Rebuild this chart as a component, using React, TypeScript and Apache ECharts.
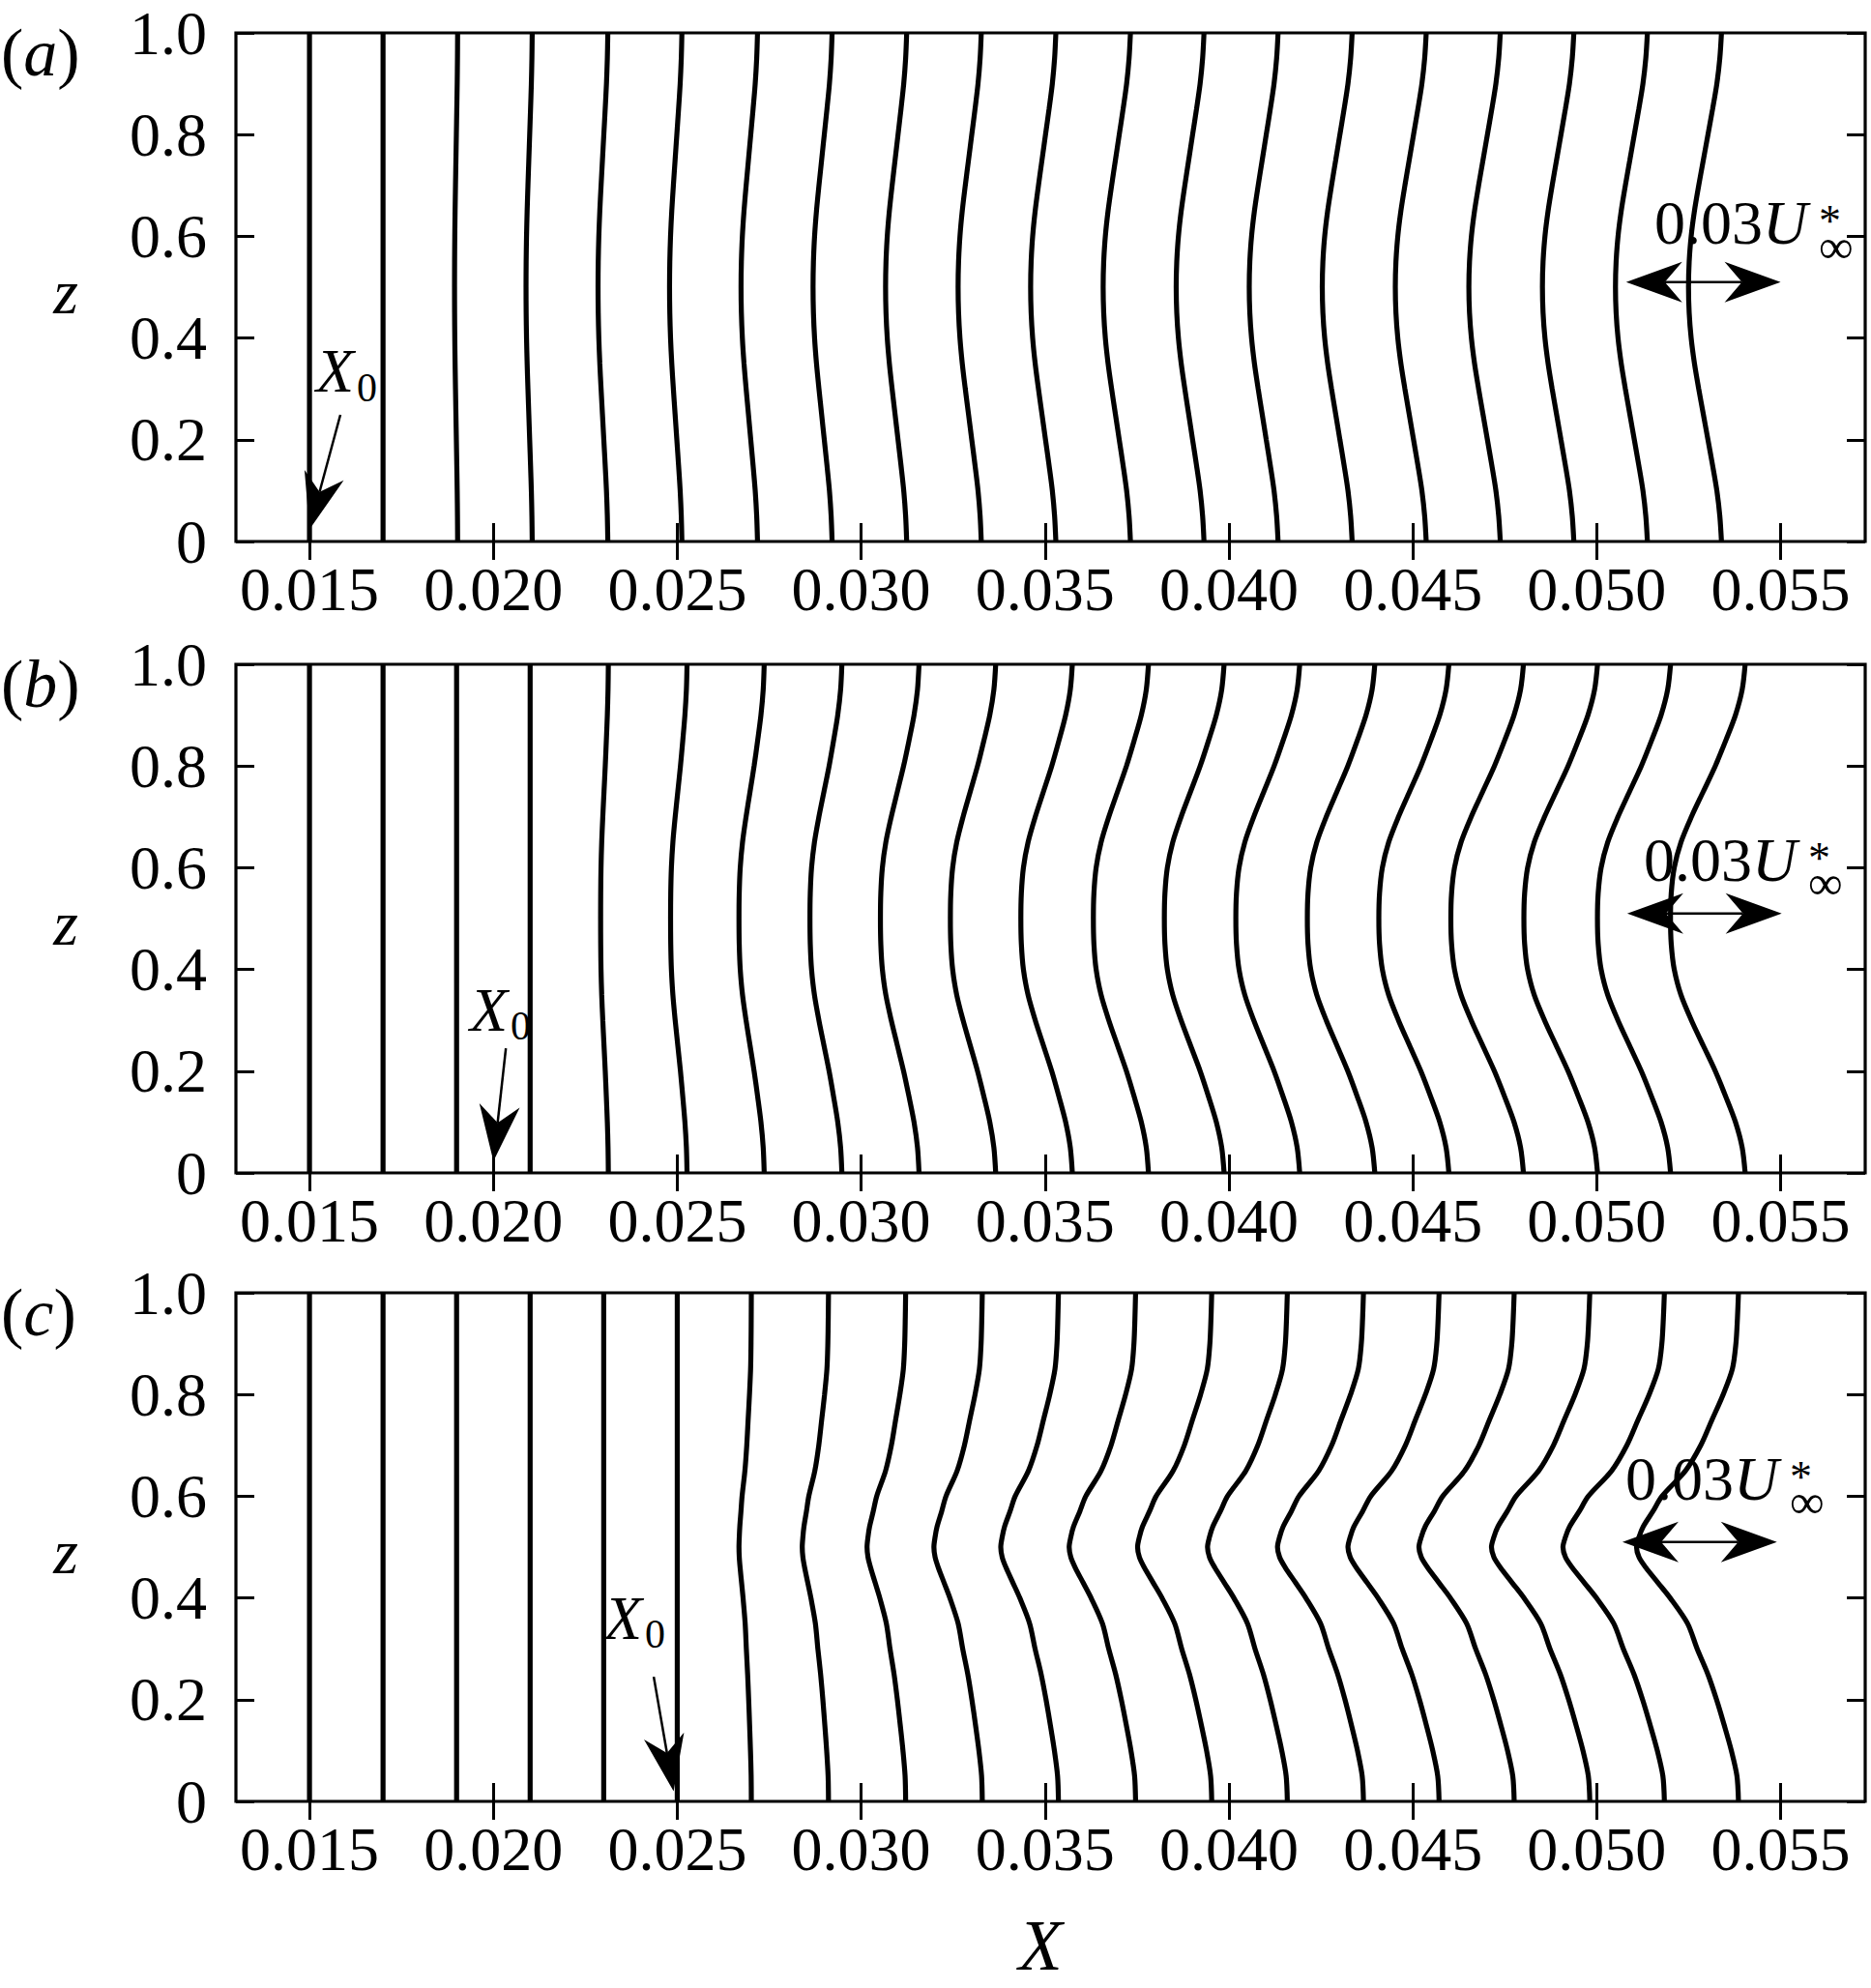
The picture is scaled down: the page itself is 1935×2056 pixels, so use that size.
import React, { useEffect, useRef } from 'react';
import * as echarts from 'echarts';

const FONT = '"Liberation Serif", "Times New Roman", serif';

// ---- axes ----
const X_MIN = 0.013;
const X_MAX = 0.0573;
const X_TICKS = [0.015, 0.02, 0.025, 0.03, 0.035, 0.04, 0.045, 0.05, 0.055];
const Z_MIN = 0;
const Z_MAX = 1;
const Z_INTERVAL = 0.2;

const PANEL_LETTERS = ['a', 'b', 'c'];

// ---- streamwise stations of the profiles ----
const PROFILE_X = [
  0.015, 0.017, 0.019, 0.021, 0.023, 0.025, 0.027, 0.029, 0.031, 0.033,
  0.035, 0.037, 0.039, 0.041, 0.043, 0.045, 0.047, 0.049, 0.051, 0.053,
];

// velocity perturbation u'/U* at the walls (z=0,1) and at the centre, per station
const WALL_A = [0, 0, 0.0002, 0.0004, 0.0008, 0.0009, 0.0013, 0.0015, 0.0017, 0.0019, 0.0021, 0.0023, 0.0023, 0.0024, 0.0025, 0.0026, 0.0027, 0.0027, 0.0027, 0.0028];
const CENTER_A = [0, 0, -0.0004, -0.0008, -0.0011, -0.0015, -0.0019, -0.0022, -0.0024, -0.0026, -0.0028, -0.003, -0.0031, -0.0032, -0.0033, -0.0034, -0.0034, -0.0034, -0.0035, -0.0036];

const WALL_B = [0, 0, 0, 0, 0.0009, 0.0019, 0.0026, 0.0034, 0.0041, 0.0047, 0.0053, 0.0058, 0.0062, 0.0066, 0.0069, 0.007, 0.0072, 0.0073, 0.0072, 0.0074];
const CENTER_B = [0, 0, 0, 0, -0.0006, -0.0013, -0.0023, -0.0028, -0.0034, -0.0041, -0.0047, -0.0049, -0.0054, -0.0058, -0.0062, -0.0066, -0.0069, -0.007, -0.007, -0.0071];

const WALL_C = [0, 0, 0, 0, 0, 0, 0.0001, 0.0008, 0.0015, 0.0021, 0.0026, 0.0033, 0.0038, 0.0042, 0.0047, 0.0051, 0.0054, 0.0058, 0.006, 0.0061];
const CENTER_C = [0, 0, 0, 0, 0, 0, -0.0023, -0.0043, -0.006, -0.0073, -0.0086, -0.0096, -0.0106, -0.0113, -0.012, -0.0126, -0.0131, -0.0133, -0.0137, -0.0137];

// profile shape across z (0 at the walls, 1 at the centre), read from the last profile
const Z_AB = [0, 0.05, 0.1, 0.15, 0.2, 0.25, 0.3, 0.35, 0.4, 0.45, 0.5, 0.55, 0.6, 0.65, 0.7, 0.75, 0.8, 0.85, 0.9, 0.95, 1];
const SHAPE_A = [0, 0.05, 0.14, 0.27, 0.41, 0.55, 0.69, 0.82, 0.92, 0.98, 1, 0.98, 0.92, 0.82, 0.69, 0.55, 0.41, 0.27, 0.14, 0.05, 0];
const SHAPE_B = [0, 0.04, 0.13, 0.26, 0.4, 0.56, 0.72, 0.86, 0.95, 0.99, 1, 0.99, 0.95, 0.86, 0.72, 0.56, 0.4, 0.26, 0.13, 0.04, 0];
const Z_C = [0, 0.05, 0.1, 0.15, 0.2, 0.25, 0.3, 0.35, 0.4, 0.43, 0.46, 0.48, 0.5, 0.52, 0.54, 0.57, 0.6, 0.65, 0.7, 0.75, 0.8, 0.85, 0.9, 0.95, 1];
const SHAPE_C = [0, 0.015, 0.07, 0.14, 0.215, 0.3, 0.405, 0.5, 0.67, 0.79, 0.91, 0.975, 1, 0.975, 0.935, 0.84, 0.75, 0.52, 0.37, 0.26, 0.15, 0.06, 0.025, 0.01, 0];

// X displacement per unit of u'/U*  (scale bar: 0.03 U* spans 0.0042 in X)
const SCALE_BAR_U = 0.03;
const SCALE_BAR_DX = 0.0042;
const X_PER_U = SCALE_BAR_DX / SCALE_BAR_U;

// ---- annotations (data coordinates) ----
const X0_TIP = [[0.015, 0.024], [0.02, 0.023], [0.0249, 0.02]];
const X0_TAIL = [[0.01584, 0.249], [0.02034, 0.245], [0.02436, 0.245]];
const X0_LABEL = [[0.01518, 0.295], [0.01936, 0.281], [0.02302, 0.321]];
const BAR_START = [[0.0508, 0.51], [0.05083, 0.51], [0.0507, 0.51]];
const BAR_LABEL = [[0.05157, 0.584], [0.05128, 0.574], [0.05078, 0.593]];

const PANELS = [
  { z: Z_AB, shape: SHAPE_A, wall: WALL_A, center: CENTER_A },
  { z: Z_AB, shape: SHAPE_B, wall: WALL_B, center: CENTER_B },
  { z: Z_C, shape: SHAPE_C, wall: WALL_C, center: CENTER_C },
];

// ---- layout ----
const GRID_LEFT = 244;
const GRID_WIDTH = 1685;
const GRID_HEIGHT = 526;
const GRID_TOPS = [34, 687, 1337];

function buildOption() {
  const grid: any[] = [];
  const xAxis: any[] = [];
  const yAxis: any[] = [];
  const series: any[] = [];
  const tickStyle = { show: true, inside: true, length: 19, lineStyle: { color: '#000', width: 3 } };
  GRID_TOPS.forEach((top, p) => {
    grid.push({ left: GRID_LEFT, top, width: GRID_WIDTH, height: GRID_HEIGHT, show: true, borderColor: '#000', borderWidth: 3.2, backgroundColor: 'transparent' });
    xAxis.push({
      type: 'value', gridIndex: p, position: 'bottom', min: X_MIN, max: X_MAX,
      axisLine: { show: false }, splitLine: { show: false },
      axisTick: { ...tickStyle, customValues: X_TICKS },
      axisLabel: { show: true, customValues: X_TICKS, margin: 17, color: '#000', fontSize: 64, fontFamily: FONT, formatter: (v: number) => v.toFixed(3) },
    });
    xAxis.push({
      type: 'value', gridIndex: p, position: 'top', min: X_MIN, max: X_MAX,
      axisLine: { show: false }, splitLine: { show: false },
      axisTick: { ...tickStyle, customValues: X_TICKS },
      axisLabel: { show: false, customValues: X_TICKS },
    });
    yAxis.push({
      type: 'value', gridIndex: p, position: 'left', min: Z_MIN, max: Z_MAX, interval: Z_INTERVAL,
      axisLine: { show: false }, splitLine: { show: false }, axisTick: tickStyle,
      axisLabel: { show: true, margin: 30, color: '#000', fontSize: 64, fontFamily: FONT, showMinLabel: true, showMaxLabel: true, formatter: (v: number) => (v === 0 ? '0' : v.toFixed(1)) },
    });
    yAxis.push({
      type: 'value', gridIndex: p, position: 'right', min: Z_MIN, max: Z_MAX, interval: Z_INTERVAL,
      axisLine: { show: false }, splitLine: { show: false }, axisTick: tickStyle, axisLabel: { show: false },
    });
    const panel = PANELS[p];
    PROFILE_X.forEach((x0, k) => {
      const data = panel.z.map((z, i) => {
        const n = panel.shape[i];
        const u = panel.wall[k] * (1 - n) + panel.center[k] * n;
        return [x0 + u * X_PER_U, z];
      });
      series.push({
        type: 'line', xAxisIndex: 2 * p, yAxisIndex: 2 * p, data,
        showSymbol: false, symbol: 'none', smooth: 0.3, silent: true,
        lineStyle: { color: '#000', width: 5.2 },
      });
    });
  });
  return { animation: false, backgroundColor: '#fff', grid, xAxis, yAxis, series };
}

function txt(x: number, y: number, text: string, size: number, italic: boolean, align = 'left') {
  return {
    type: 'text', x, y, silent: true, z: 100,
    style: {
      text, fill: '#000', fontSize: size, fontFamily: FONT, fontStyle: italic ? 'italic' : 'normal',
      align, verticalAlign: 'middle', textAlign: align, textVerticalAlign: 'middle',
    },
  };
}

function richTxt(x: number, y: number, text: string, rich: any, align = 'left') {
  return {
    type: 'text', x, y, silent: true, z: 100,
    style: { text, fill: '#000', align, verticalAlign: 'middle', textAlign: align, textVerticalAlign: 'middle', rich },
  };
}

function arrowHead(tip: number[], from: number[], len = 58, half = 21, notch = 40) {
  const dx = tip[0] - from[0];
  const dy = tip[1] - from[1];
  const L = Math.hypot(dx, dy);
  const d = [dx / L, dy / L];
  const n = [-d[1], d[0]];
  return {
    type: 'polygon', silent: true, z: 100,
    shape: {
      points: [
        tip,
        [tip[0] - d[0] * len + n[0] * half, tip[1] - d[1] * len + n[1] * half],
        [tip[0] - d[0] * notch, tip[1] - d[1] * notch],
        [tip[0] - d[0] * len - n[0] * half, tip[1] - d[1] * len - n[1] * half],
      ],
    },
    style: { fill: '#000' },
  };
}

function buildGraphics(chart: any) {
  const els: any[] = [];
  const px = (p: number, pt: number[]) => chart.convertToPixel({ gridIndex: p }, pt) as number[];
  GRID_TOPS.forEach((top, p) => {
    // panel letter
    els.push(richTxt(1, top + 20, `{n|(}{i|${PANEL_LETTERS[p]}}{n|)}`, {
      n: { fontSize: 70, fontFamily: FONT, fill: '#000' },
      i: { fontSize: 70, fontFamily: FONT, fontStyle: 'italic', fill: '#000' },
    }));
    // z label
    els.push(txt(68, top + GRID_HEIGHT / 2 + 4, 'z', 66, true, 'center'));

    // X0 arrow
    const tip = px(p, X0_TIP[p]);
    const tail = px(p, X0_TAIL[p]);
    const dx = tip[0] - tail[0];
    const dy = tip[1] - tail[1];
    const L = Math.hypot(dx, dy);
    els.push({
      type: 'line', silent: true, z: 100,
      shape: { x1: tail[0], y1: tail[1], x2: tip[0] - (dx / L) * 40, y2: tip[1] - (dy / L) * 40 },
      style: { stroke: '#000', lineWidth: 2.5 },
    });
    els.push(arrowHead(tip, tail));
    const lab = px(p, X0_LABEL[p]);
    els.push(txt(lab[0], lab[1] - 21, 'X', 64, true));
    els.push(txt(lab[0] + 42, lab[1] - 4, '0', 42, false));

    // scale bar
    const b0 = px(p, BAR_START[p]);
    const b1 = px(p, [BAR_START[p][0] + SCALE_BAR_U * X_PER_U, BAR_START[p][1]]);
    els.push({
      type: 'line', silent: true, z: 100,
      shape: { x1: b0[0] + 40, y1: b0[1], x2: b1[0] - 40, y2: b1[1] },
      style: { stroke: '#000', lineWidth: 2.5 },
    });
    els.push(arrowHead(b0, b1));
    els.push(arrowHead(b1, b0));
    const bl = px(p, BAR_LABEL[p]);
    els.push(richTxt(bl[0], bl[1] - 22, '{n|0.03}{u|U}', {
      n: { fontSize: 64, fontFamily: FONT, fill: '#000' },
      u: { fontSize: 64, fontFamily: FONT, fontStyle: 'italic', fill: '#000' },
    }));
    els.push(richTxt(bl[0] + 170, bl[1] - 11, '{s|*}\n{i|\u221e}', {
      s: { fontSize: 46, lineHeight: 26, fontFamily: FONT, fill: '#000' },
      i: { fontSize: 50, lineHeight: 26, fontFamily: FONT, fill: '#000' },
    }));
  });
  // x-axis title
  els.push(txt(1076, 2012, 'X', 74, true, 'center'));
  return els;
}

export default function App() {
  const ref = useRef<HTMLDivElement>(null);
  useEffect(() => {
    const chart = echarts.init(ref.current as HTMLDivElement, null, { renderer: 'svg' });
    chart.setOption(buildOption() as any);
    chart.setOption({ graphic: buildGraphics(chart) } as any);
    return () => chart.dispose();
  }, []);
  return (
    <div
      ref={ref}
      style={{ position: 'absolute', left: 0, top: 0, width: 1935, height: 2056, background: '#fff' }}
    />
  );
}
